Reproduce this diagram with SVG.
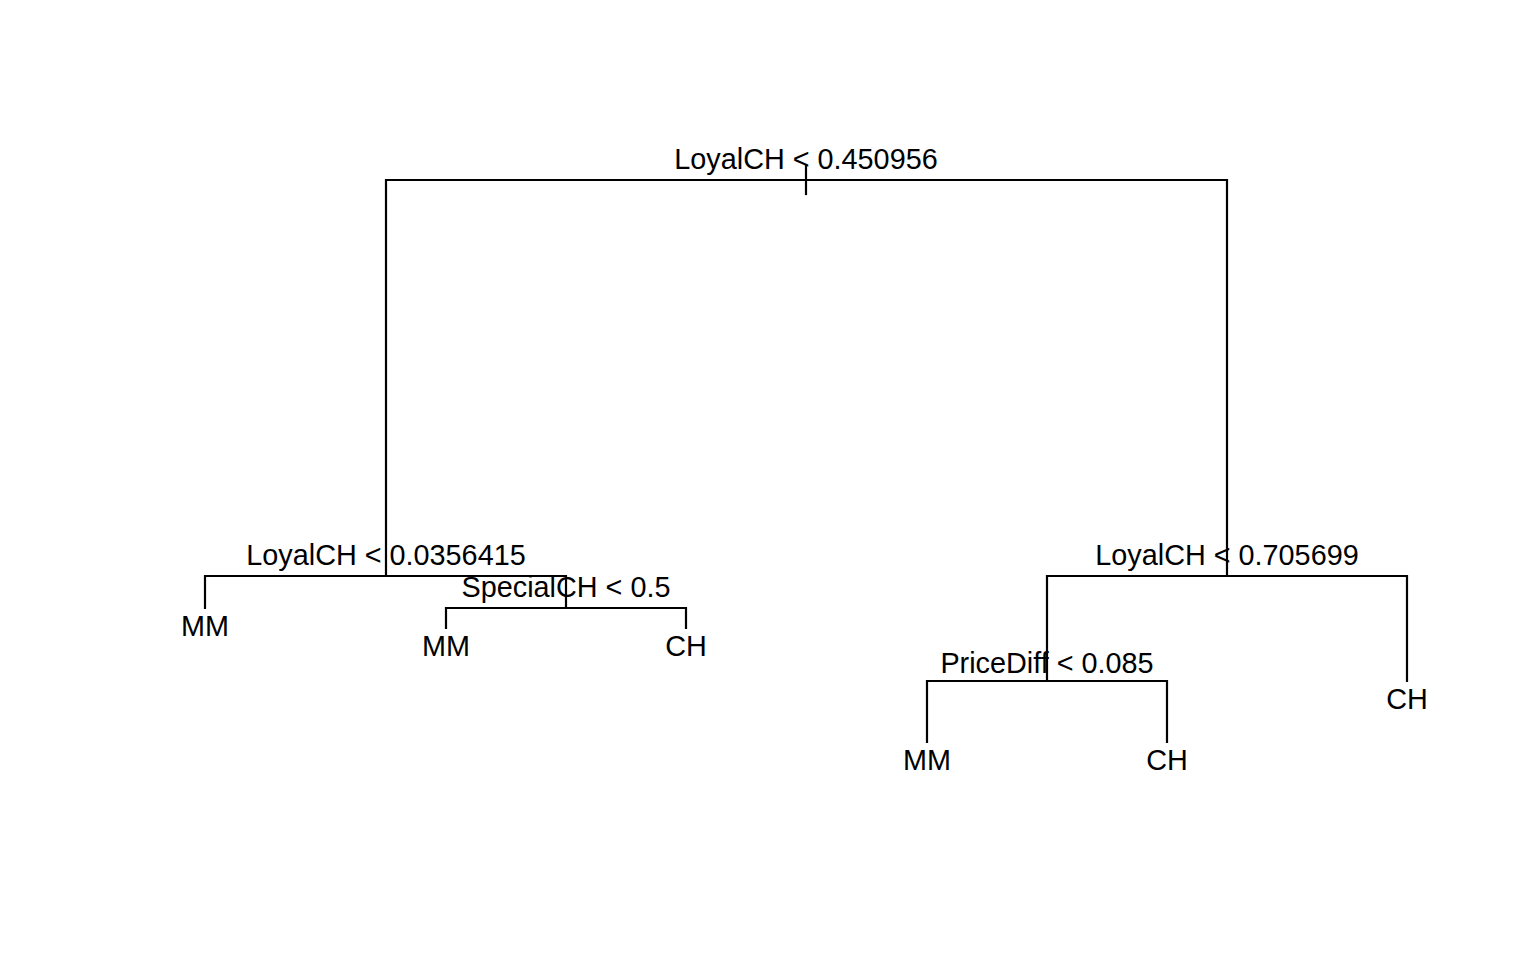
<svg xmlns="http://www.w3.org/2000/svg" width="1536" height="960" viewBox="0 0 1536 960">
<style>
.e{stroke:#000;stroke-width:2.2;fill:none;stroke-linecap:square}
text{font-family:"Liberation Sans",Arial,sans-serif;font-size:28.8px;fill:#000;text-anchor:middle}
</style>
<rect width="1536" height="960" fill="#fff"/>
<g id="connectors">
<path class="e" d="M806,166V194"/>
<path class="e" d="M386,576V180H1227V576"/>
<path class="e" d="M205,608V576H566V608"/>
<path class="e" d="M446,628V608H686V628"/>
<path class="e" d="M1047,681V576H1407V681"/>
<path class="e" d="M927,742V681H1167V742"/>
</g>
<g id="n1"><text x="806" y="169">LoyalCH &lt; 0.450956</text></g>
<g id="n2"><text x="386" y="565">LoyalCH &lt; 0.0356415</text></g>
<g id="n3"><text x="1227" y="565">LoyalCH &lt; 0.705699</text></g>
<g id="n4"><text x="205" y="636">MM</text></g>
<g id="n5"><text x="566" y="597">SpecialCH &lt; 0.5</text></g>
<g id="n6"><text x="446" y="656">MM</text></g>
<g id="n7"><text x="686" y="656">CH</text></g>
<g id="n8"><text x="1047" y="673">PriceDiff &lt; 0.085</text></g>
<g id="n9"><text x="1407" y="709">CH</text></g>
<g id="n10"><text x="927" y="770">MM</text></g>
<g id="n11"><text x="1167" y="770">CH</text></g>
</svg>
